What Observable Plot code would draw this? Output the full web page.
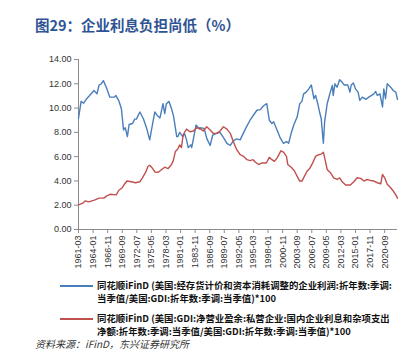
<!DOCTYPE html>
<html><head><meta charset="utf-8">
<script src="https://cdn.jsdelivr.net/npm/d3@7"></script>
<script src="https://cdn.jsdelivr.net/npm/@observablehq/plot@0.6"></script>
<style>
body{margin:0;background:#fff;}
#wrap{position:relative;width:415px;height:351px;overflow:hidden;background:#fff;}
#title{position:absolute;left:35px;top:14px;font:bold 14.5px "Noto Sans CJK SC";color:#2f5493;white-space:nowrap;}
#chart{position:absolute;left:0;top:0;}
.leg{position:absolute;left:60px;font:bold 9.4px/13px "Noto Sans CJK SC";color:#111;white-space:nowrap;}
.leg .sw{position:absolute;left:0;top:6px;width:33px;height:1.5px;}
.leg .tx{margin-left:37px;}
#src{position:absolute;left:35px;top:338px;font:italic 10px/12px "Noto Sans CJK SC";color:#333;white-space:nowrap;}
</style></head>
<body><div id="wrap">
<div id="chart"></div>
<div id="title"></div>
<div class="leg" id="leg0" style="top:279px"><span class="sw"></span><div class="tx"></div></div>
<div class="leg" id="leg1" style="top:312px"><span class="sw"></span><div class="tx"></div></div>
<div id="src"></div>
</div>
<script>
const titleText = "图29：企业利息负担尚低（%）";
const sourceText = "资料来源：iFinD，东兴证券研究所";
const seriesNames = [
  ["同花顺iFinD (美国:经存货计价和资本消耗调整的企业利润:折年数:季调:", "当季值/美国:GDI:折年数:季调:当季值)*100"],
  ["同花顺iFinD (美国:GDI:净营业盈余:私营企业:国内企业利息和杂项支出", "净额:折年数:季调:当季值/美国:GDI:折年数:季调:当季值)*100"]
];
const seriesColors = ["#4a7ebb", "#c0504d"];
const xTickLabels = ["1961-03","1964-01","1966-11","1969-09","1972-07","1975-05","1978-03","1981-01","1983-11","1986-09","1989-07","1992-05","1995-03","1998-01","2000-11","2003-09","2006-07","2009-05","2012-03","2015-01","2017-11","2020-09"];
const yTicks = [0,2,4,6,8,10,12,14];

const profitYears = [1961.17,1961.70,1962.15,1962.79,1963.32,1964.15,1964.74,1965.13,1965.60,1965.99,1966.57,1967.22,1968.19,1968.39,1969.03,1969.50,1969.95,1970.28,1970.67,1970.98,1971.65,1972.09,1972.43,1973.07,1973.71,1974.38,1975.02,1975.55,1976.00,1976.45,1976.97,1977.62,1977.95,1978.28,1978.79,1979.25,1979.70,1980.23,1980.54,1980.87,1981.40,1981.71,1982.18,1982.49,1982.96,1983.16,1983.60,1983.99,1984.64,1984.78,1985.56,1986.08,1986.73,1987.25,1988.03,1988.68,1989.46,1989.98,1990.63,1991.27,1991.93,1992.58,1993.55,1994.53,1995.17,1995.84,1996.48,1997.12,1997.79,1998.29,1998.76,1999.08,1999.74,2000.38,2001.03,2001.55,2002.00,2002.47,2002.98,2003.64,2004.15,2004.61,2004.93,2005.45,2005.90,2006.43,2006.88,2007.21,2007.66,2008.05,2008.32,2008.71,2009.03,2009.49,2010.00,2010.47,2010.66,2010.98,2011.45,2011.95,2012.42,2012.87,2013.51,2013.90,2014.18,2014.57,2015.01,2015.46,2015.85,2016.32,2016.97,2017.61,2018.58,2018.92,2019.25,2019.75,2020.22,2020.53,2020.86,2021.20,2021.84,2022.37,2022.81,2023.15];
const profitValues = [9.14,10.55,10.4,10.77,11.04,11.45,11.17,11.9,12.0,12.26,11.7,10.9,10.9,11.04,10.6,9.95,8.2,8.38,7.65,8.65,8.73,9.09,9.09,9.68,9.14,8.33,7.38,8.73,9.68,9.41,9.19,10.36,9.55,10.36,10.55,9.95,9.28,7.65,7.65,8.0,7.65,7.92,7.38,6.75,6.97,6.75,7.65,8.6,8.27,8.38,8.33,7.5,6.92,7.78,7.92,8.0,7.46,7.1,6.92,7.3,7.46,7.38,8.27,9.0,9.41,9.82,9.87,10.17,10.36,9.0,8.73,8.87,8.2,7.5,7.1,7.24,7.1,7.92,8.6,9.28,10.36,10.55,11.17,11.31,11.58,11.9,10.77,11.04,10.36,9.55,9.14,7.1,8.87,10.36,11.17,11.86,11.04,12.0,11.72,12.34,12.12,11.9,11.9,11.31,11.9,12.07,11.58,11.31,10.63,10.9,10.72,10.9,11.17,11.37,11.04,11.17,10.09,11.58,10.77,12.0,11.72,11.45,11.31,10.72];

const interestYears = [1961.17,1962.01,1962.54,1963.18,1964.29,1965.13,1966.05,1966.69,1967.35,1968.52,1969.03,1969.70,1970.14,1970.59,1971.45,1972.29,1973.07,1973.60,1974.24,1974.69,1975.02,1975.55,1976.00,1976.64,1977.30,1977.95,1978.59,1979.25,1979.57,1980.04,1980.54,1980.87,1981.20,1981.52,1981.85,1982.18,1982.82,1983.47,1984.13,1984.78,1985.42,1986.08,1986.73,1987.37,1988.03,1988.68,1989.32,1989.98,1990.63,1991.27,1991.93,1992.58,1993.22,1993.88,1994.53,1995.06,1995.50,1996.15,1996.81,1997.65,1998.29,1998.76,1999.21,1999.86,2000.52,2001.03,2001.55,2001.81,2002.47,2003.11,2003.76,2004.15,2004.61,2005.06,2005.59,2006.10,2006.57,2007.21,2007.85,2008.32,2008.71,2009.16,2009.49,2010.13,2010.78,2011.45,2011.95,2012.42,2013.06,2014.04,2014.68,2015.35,2015.99,2016.63,2017.29,2017.94,2018.58,2019.25,2019.89,2020.28,2020.67,2021.20,2021.84,2022.37,2022.81,2023.15];
const interestValues = [2.03,2.17,2.36,2.28,2.42,2.58,2.58,2.77,2.9,2.85,3.23,3.44,3.77,3.99,3.93,3.85,3.93,4.26,4.74,5.21,5.29,5.02,4.74,4.72,4.94,5.13,5.02,5.35,5.67,6.43,6.65,6.97,6.75,7.78,8.05,8.27,8.05,8.11,8.38,8.33,8.11,8.46,8.2,7.92,7.92,8.11,8.46,8.27,7.92,7.24,6.57,6.16,6.02,5.75,5.67,5.75,5.56,5.35,5.48,5.48,5.94,5.75,5.61,5.94,6.48,6.37,6.02,5.35,5.13,4.86,4.31,3.99,3.99,4.39,4.8,5.02,5.4,6.02,6.16,6.21,6.37,5.61,4.94,4.66,4.26,4.12,4.26,3.93,3.66,3.66,3.93,4.26,4.21,3.99,4.12,4.04,3.99,3.85,3.77,4.53,4.26,3.72,3.44,3.17,2.85,2.58];

const toDate = t => { const yr = Math.floor(t); const m = Math.round((t - yr) * 12); return new Date(Date.UTC(yr, m, 1)); };
const parseYM = s => new Date(Date.UTC(+s.slice(0,4), +s.slice(5,7) - 1, 1));
const profitRows = profitYears.map((t, i) => ({date: toDate(t), value: profitValues[i]}));
const interestRows = interestYears.map((t, i) => ({date: toDate(t), value: interestValues[i]}));
const xDomain = [parseYM("1961-03"), parseYM("2023-03")];

const chart = Plot.plot({
  width: 415, height: 275,
  marginLeft: 78, marginRight: 18, marginTop: 59, marginBottom: 46,
  style: {fontFamily: "Liberation Sans, Arial, sans-serif", fontSize: "9px", color: "#222", background: "transparent", overflow: "visible"},
  x: {type: "utc", domain: xDomain},
  y: {domain: [0, 14]},
  marks: [
    Plot.ruleX([xDomain[0]], {stroke: "#8c8c8c"}),
    Plot.ruleY([0], {stroke: "#8c8c8c"}),
    Plot.axisY({ticks: yTicks, tickFormat: d => d.toFixed(2), tickSize: 4, tickPadding: 3, stroke: "#8c8c8c", fill: "#333", label: null}),
    Plot.axisX({ticks: xTickLabels.map(parseYM), tickFormat: d3.utcFormat("%Y-%m"), tickRotate: -90, tickSize: 4, tickPadding: 2, stroke: "#8c8c8c", fill: "#333", label: null}),
    Plot.line(profitRows, {x: "date", y: "value", stroke: seriesColors[0], strokeWidth: 1.4}),
    Plot.line(interestRows, {x: "date", y: "value", stroke: seriesColors[1], strokeWidth: 1.4})
  ]
});
document.getElementById("chart").appendChild(chart);
document.getElementById("title").textContent = titleText;
document.getElementById("src").textContent = sourceText;
seriesNames.forEach((lines, i) => {
  const el = document.getElementById("leg" + i);
  el.querySelector(".sw").style.background = seriesColors[i];
  el.querySelector(".tx").innerHTML = lines.map(l => l.replace(/&/g,"&amp;").replace(/</g,"&lt;")).join("<br>");
});
</script>
</body></html>
